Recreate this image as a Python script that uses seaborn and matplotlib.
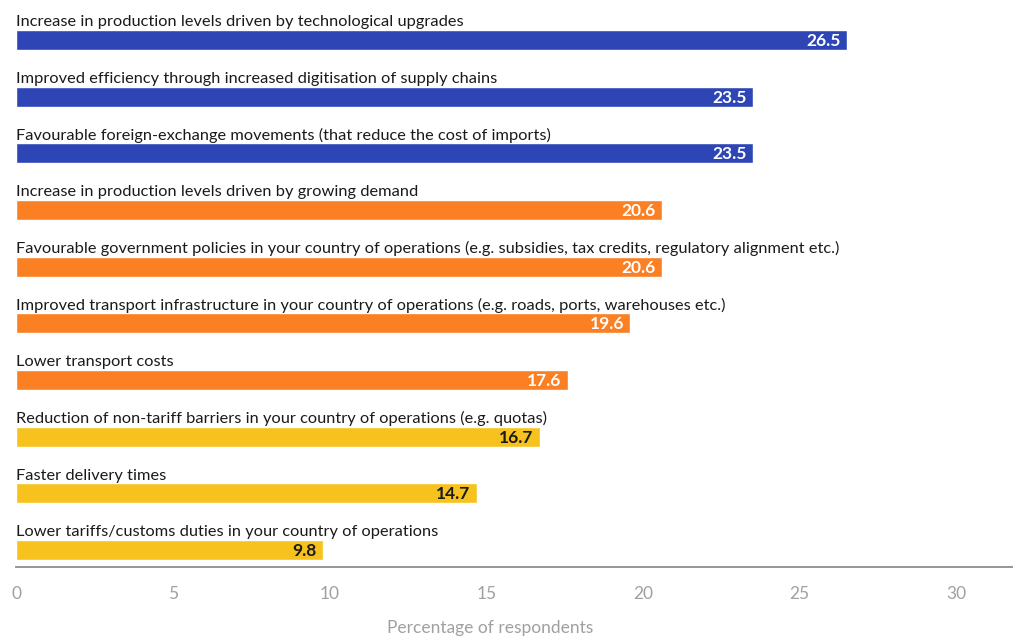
import matplotlib
matplotlib.use("Agg")
import matplotlib.pyplot as plt
import seaborn as sns

labels = [
    "Increase in production levels driven by technological upgrades",
    "Improved efficiency through increased digitisation of supply chains",
    "Favourable foreign-exchange movements (that reduce the cost of imports)",
    "Increase in production levels driven by growing demand",
    "Favourable government policies in your country of operations (e.g. subsidies, tax credits, regulatory alignment etc.)",
    "Improved transport infrastructure in your country of operations (e.g. roads, ports, warehouses etc.)",
    "Lower transport costs",
    "Reduction of non-tariff barriers in your country of operations (e.g. quotas)",
    "Faster delivery times",
    "Lower tariffs/customs duties in your country of operations",
]
values = [26.5, 23.5, 23.5, 20.6, 20.6, 19.6, 17.6, 16.7, 14.7, 9.8]
groups = ["top", "top", "top", "mid", "mid", "mid", "mid", "low", "low", "low"]

group_colors = {"top": "#2E46B5", "mid": "#FB7F23", "low": "#F7C11E"}
value_colors = {"top": "white", "mid": "white", "low": "#1a1a1a"}

sns.set_theme(style="white")
plt.rcParams["font.family"] = ["Lato", "DejaVu Sans"]

fig = plt.figure(figsize=(10.13, 6.41), dpi=100)
ax = fig.add_axes([16 / 1013, 1 - 567 / 641, 997 / 1013, 567 / 641])

sns.barplot(x=values, y=labels, hue=labels, palette=[group_colors[g] for g in groups],
            width=0.35, legend=False, orient="h", ax=ax, saturation=1)

for i, (lab, v, g) in enumerate(zip(labels, values, groups)):
    ax.text(0, i - 0.19, lab, ha="left", va="bottom", fontsize=11.8, color="#1a1a1a")
    ax.text(v - 0.2, i + 0.02, f"{v:.1f}", ha="right", va="center", fontsize=12.5,
            fontweight="bold", color=value_colors[g])

ax.set_xlim(0, 997 / 31.35)
ax.set_ylim(9.3, -0.705)
ax.set_xticks([0, 5, 10, 15, 20, 25, 30])
ax.set_yticks([])
ax.set_ylabel("")
ax.tick_params(axis="x", length=0, pad=14, labelsize=12.5, labelcolor="#a0a0a0")
for s in ["top", "right", "left"]:
    ax.spines[s].set_visible(False)
ax.spines["bottom"].set_color("#8c8c8c")
ax.spines["bottom"].set_linewidth(1.3)

ax.set_xlabel("Percentage of respondents", fontsize=12.5, color="#a0a0a0")
ax.xaxis.set_label_coords((490 - 16) / 997, -0.094)

fig.savefig("out.png", dpi=100)
